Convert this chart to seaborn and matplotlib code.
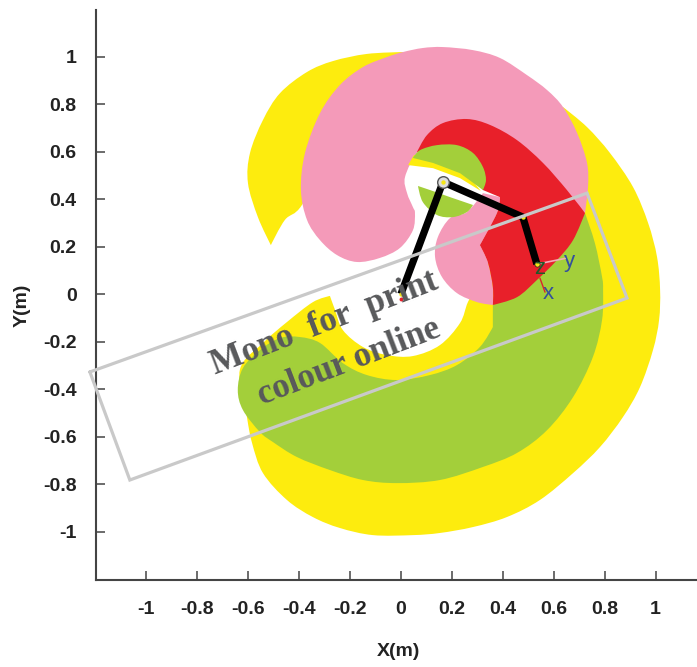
import matplotlib
matplotlib.use("Agg")
import matplotlib.pyplot as plt
from matplotlib.path import Path
from matplotlib.patches import PathPatch
import pandas as pd
import seaborn as sns

# workspace outlines, in metres
yellow_x = [.637, .731, .821, .912, .971, 1.006, 1.018, 1.014, .990, .939, .872, .782, .676, .546, .416, .283, .153, .047, -.110, -.240, -.346, -.448, -.542, -.585, -.605, -.633, -.542, -.448, -.346, -.279, -.259, -.228, -.149, -.055, .047, .153, .232, .263, .310, .468]
yellow_y = [.787, .703, .594, .450, .299, .156, .017, -.109, -.236, -.392, -.518, -.644, -.754, -.867, -.939, -.981, -1.006, -1.015, -1.015, -.985, -.939, -.867, -.754, -.627, -.518, -.320, -.206, -.118, -.034, -.008, -.067, -.152, -.223, -.257, -.261, -.215, -.122, -.034, .059, .396]
yellow_top_x = [-.511, -.562, -.601, -.593, -.542, -.475, -.369, -.267, -.134, .008, .008, -.279, -.389, -.456]
yellow_top_y = [.206, .324, .467, .594, .733, .846, .935, .981, 1.011, 1.019, .800, .606, .375, .312]
band_x = [.051, .028, .126, .232, .314, .232, .126]
band_y = [.585, .543, .530, .488, .434, .543, .585]

pink_x = [.055, .047, -.004, -.083, -.173, -.251, -.318, -.369, -.393, -.377, -.318, -.240, -.149, -.055, .008, .086, .165, .283, .389, .495, .574, .637, .692, .731, .735, .723, .468, .389, .271, .114, .063, .016, .024, .047]
pink_y = [.341, .269, .194, .152, .135, .164, .227, .312, .438, .594, .762, .880, .956, .998, 1.019, 1.036, 1.040, 1.027, .994, .922, .859, .787, .678, .552, .451, .341, .143, .522, .606, .606, .594, .493, .425, .366]
lobe_x = [.389, .377, .310, .342, .361, .361, .299, .220, .161, .134, .145, .193, .259, .322]
lobe_y = [.408, .341, .206, .131, .029, -.046, -.034, .004, .072, .156, .240, .320, .345, .425]

red_x = [.063, .102, .165, .259, .350, .456, .558, .652, .723, .676, .613, .534, .456, .361, .361, .342, .310, .377, .389, .322, .271, .153]
red_y = [.598, .669, .720, .737, .712, .648, .552, .438, .341, .227, .143, .059, -.013, -.046, .029, .131, .206, .341, .408, .438, .543, .606]

green_x = [.723, .762, .790, .794, .790, .754, .676, .574, .456, .322, .153, -.016, -.149, -.279, -.409, -.503, -.554, -.621, -.641, -.621, -.554, -.475, -.397, -.318, -.228, -.134, -.016, .114, .220, .310, .361, .361, .625]
green_y = [.341, .214, .072, .017, -.109, -.265, -.434, -.573, -.669, -.728, -.783, -.796, -.783, -.741, -.686, -.623, -.581, -.488, -.404, -.312, -.236, -.185, -.181, -.206, -.291, -.341, -.362, -.341, -.299, -.223, -.139, -.046, .185]
cap_top_x = [.047, .075, .141, .220, .283, .322, .334, .322, .232, .126]
cap_top_y = [.573, .606, .627, .627, .594, .535, .480, .438, .509, .552]
cap_low_x = [.067, .114, .193, .283, .259, .204, .141, .086]
cap_low_y = [.455, .438, .408, .375, .345, .324, .333, .387]

# robot arm joints
arm_x = [0, .165, .479, .534]
arm_y = [0, .472, .324, .126]

# watermark box corners
box_x = [-1.222, -1.065, .888, .731, -1.222]
box_y = [-.328, -.783, -.017, .425, -.328]

ticks = [-1, -.8, -.6, -.4, -.2, 0, .2, .4, .6, .8, 1]
tick_labels = ["-1", "-0.8", "-0.6", "-0.4", "-0.2", "0", "0.2", "0.4", "0.6", "0.8", "1"]

YELLOW = "#fdec0e"
PINK = "#f49ab9"
RED = "#e8202a"
GREEN = "#a3cf3a"


def curved_fill(ax, xs, ys, color, corners=()):
    # closed bezier path through the outline points, sharp at the corner ones
    n = len(xs)
    pts = list(zip(xs, ys))

    def tangent(i):
        if i % n in corners:
            return (0.0, 0.0)
        a, b = pts[(i - 1) % n], pts[(i + 1) % n]
        return ((b[0] - a[0]) / 6, (b[1] - a[1]) / 6)

    verts = [pts[0]]
    codes = [Path.MOVETO]
    for i in range(n):
        p, q = pts[i], pts[(i + 1) % n]
        t0, t1 = tangent(i), tangent(i + 1)
        verts += [(p[0] + t0[0], p[1] + t0[1]), (q[0] - t1[0], q[1] - t1[1]), q]
        codes += [Path.CURVE4] * 3
    ax.add_patch(PathPatch(Path(verts, codes), facecolor=color, edgecolor="none", lw=0))


sns.set_style("ticks")
plt.rcParams["font.family"] = ["Liberation Sans", "DejaVu Sans"]

fig = plt.figure(figsize=(6.97, 6.67), dpi=100)
ax = fig.add_axes([96 / 697, 87 / 667, 601 / 697, 570 / 667])

curved_fill(ax, yellow_x, yellow_y, YELLOW, corners=(0, 29, 39))
curved_fill(ax, yellow_top_x, yellow_top_y, YELLOW, corners=(0, 9, 10, 11))
curved_fill(ax, pink_x, pink_y, PINK, corners=(25, 26, 27, 28, 29))
curved_fill(ax, green_x, green_y, GREEN, corners=(0, 30, 31, 32))
curved_fill(ax, lobe_x, lobe_y, PINK, corners=(0, 2, 5, 13))
curved_fill(ax, red_x, red_y, RED, corners=(0, 8, 13, 16, 18, 19, 20, 21))
ax.fill(band_x, band_y, color=YELLOW, lw=0)
curved_fill(ax, cap_top_x, cap_top_y, GREEN, corners=(0, 7, 8, 9))
curved_fill(ax, cap_low_x, cap_low_y, GREEN, corners=(0, 1, 2, 3))

# arm
arm = pd.DataFrame({"x": arm_x, "y": arm_y})
sns.lineplot(data=arm, x="x", y="y", sort=False, estimator=None, color="black",
             lw=5.2, solid_capstyle="butt", solid_joinstyle="miter", ax=ax)
ax.scatter(arm_x[1:2], arm_y[1:2], s=70, facecolor="#dddddd", edgecolor="#555555", lw=1, zorder=4)
ax.scatter(arm_x[:3], arm_y[:3], s=10, color="#f5e616", lw=0, zorder=5)
ax.scatter([0], [-.02], s=8, color=RED, lw=0, zorder=5)
ax.scatter(arm_x[3:], arm_y[3:], s=14, color="#f5e616", edgecolor="#222222", lw=0.5, zorder=5)

# end effector frame
ax.plot([.534, .645], [.126, .150], color="#f4a9b8", lw=1.2, zorder=4)
ax.plot([.546, .566], [.067, .008], color="#d8262c", lw=1, zorder=4)
ax.text(.546, .109, "z", color="#1f5a2a", fontsize=16, ha="center", va="center", zorder=6)
ax.text(.664, .135, "y", color="#34509c", fontsize=16, ha="center", va="center")
ax.text(.578, .004, "x", color="#34509c", fontsize=16, ha="center", va="center")

# watermark
ax.plot(box_x, box_y, color="#c9c9c9", lw=2.3, clip_on=False, zorder=7, solid_joinstyle="miter")
ax.text(-.299, -.122, "Mono  for  print", family="Liberation Serif", weight="bold", fontsize=25,
        color="#58595b", rotation=21, rotation_mode="anchor", ha="center", va="center", zorder=8)
ax.text(-.204, -.286, "colour online", family="Liberation Serif", weight="bold", fontsize=25,
        color="#58595b", rotation=21, rotation_mode="anchor", ha="center", va="center", zorder=8)

ax.set_xlim(-1.198, 1.163)
ax.set_ylim(-1.204, 1.196)
ax.set_xlabel("")
ax.set_ylabel("")
ax.set_xticks(ticks, tick_labels)
ax.set_yticks(ticks, tick_labels)
ax.tick_params(axis="x", direction="in", length=6.5, width=1.1, color="#444444", labelsize=14, pad=15, labelcolor="#222222")
ax.tick_params(axis="y", direction="in", length=6.5, width=1.1, color="#444444", labelsize=14, pad=14, labelcolor="#222222")
for lab in ax.get_xticklabels() + ax.get_yticklabels():
    lab.set_fontweight("bold")

sns.despine(ax=ax)
for side in ["left", "bottom"]:
    ax.spines[side].set_linewidth(1.5)
    ax.spines[side].set_color("#444444")

fig.text(399 / 697, 1 - 652 / 667, "X(m)", fontsize=14, weight="bold", color="#222222", ha="center", va="center")
fig.text(22 / 697, 1 - 305 / 667, "Y(m)", fontsize=14, weight="bold", color="#222222", rotation=90, ha="center", va="center")

fig.savefig("out.png", dpi=100)
plt.close(fig)
